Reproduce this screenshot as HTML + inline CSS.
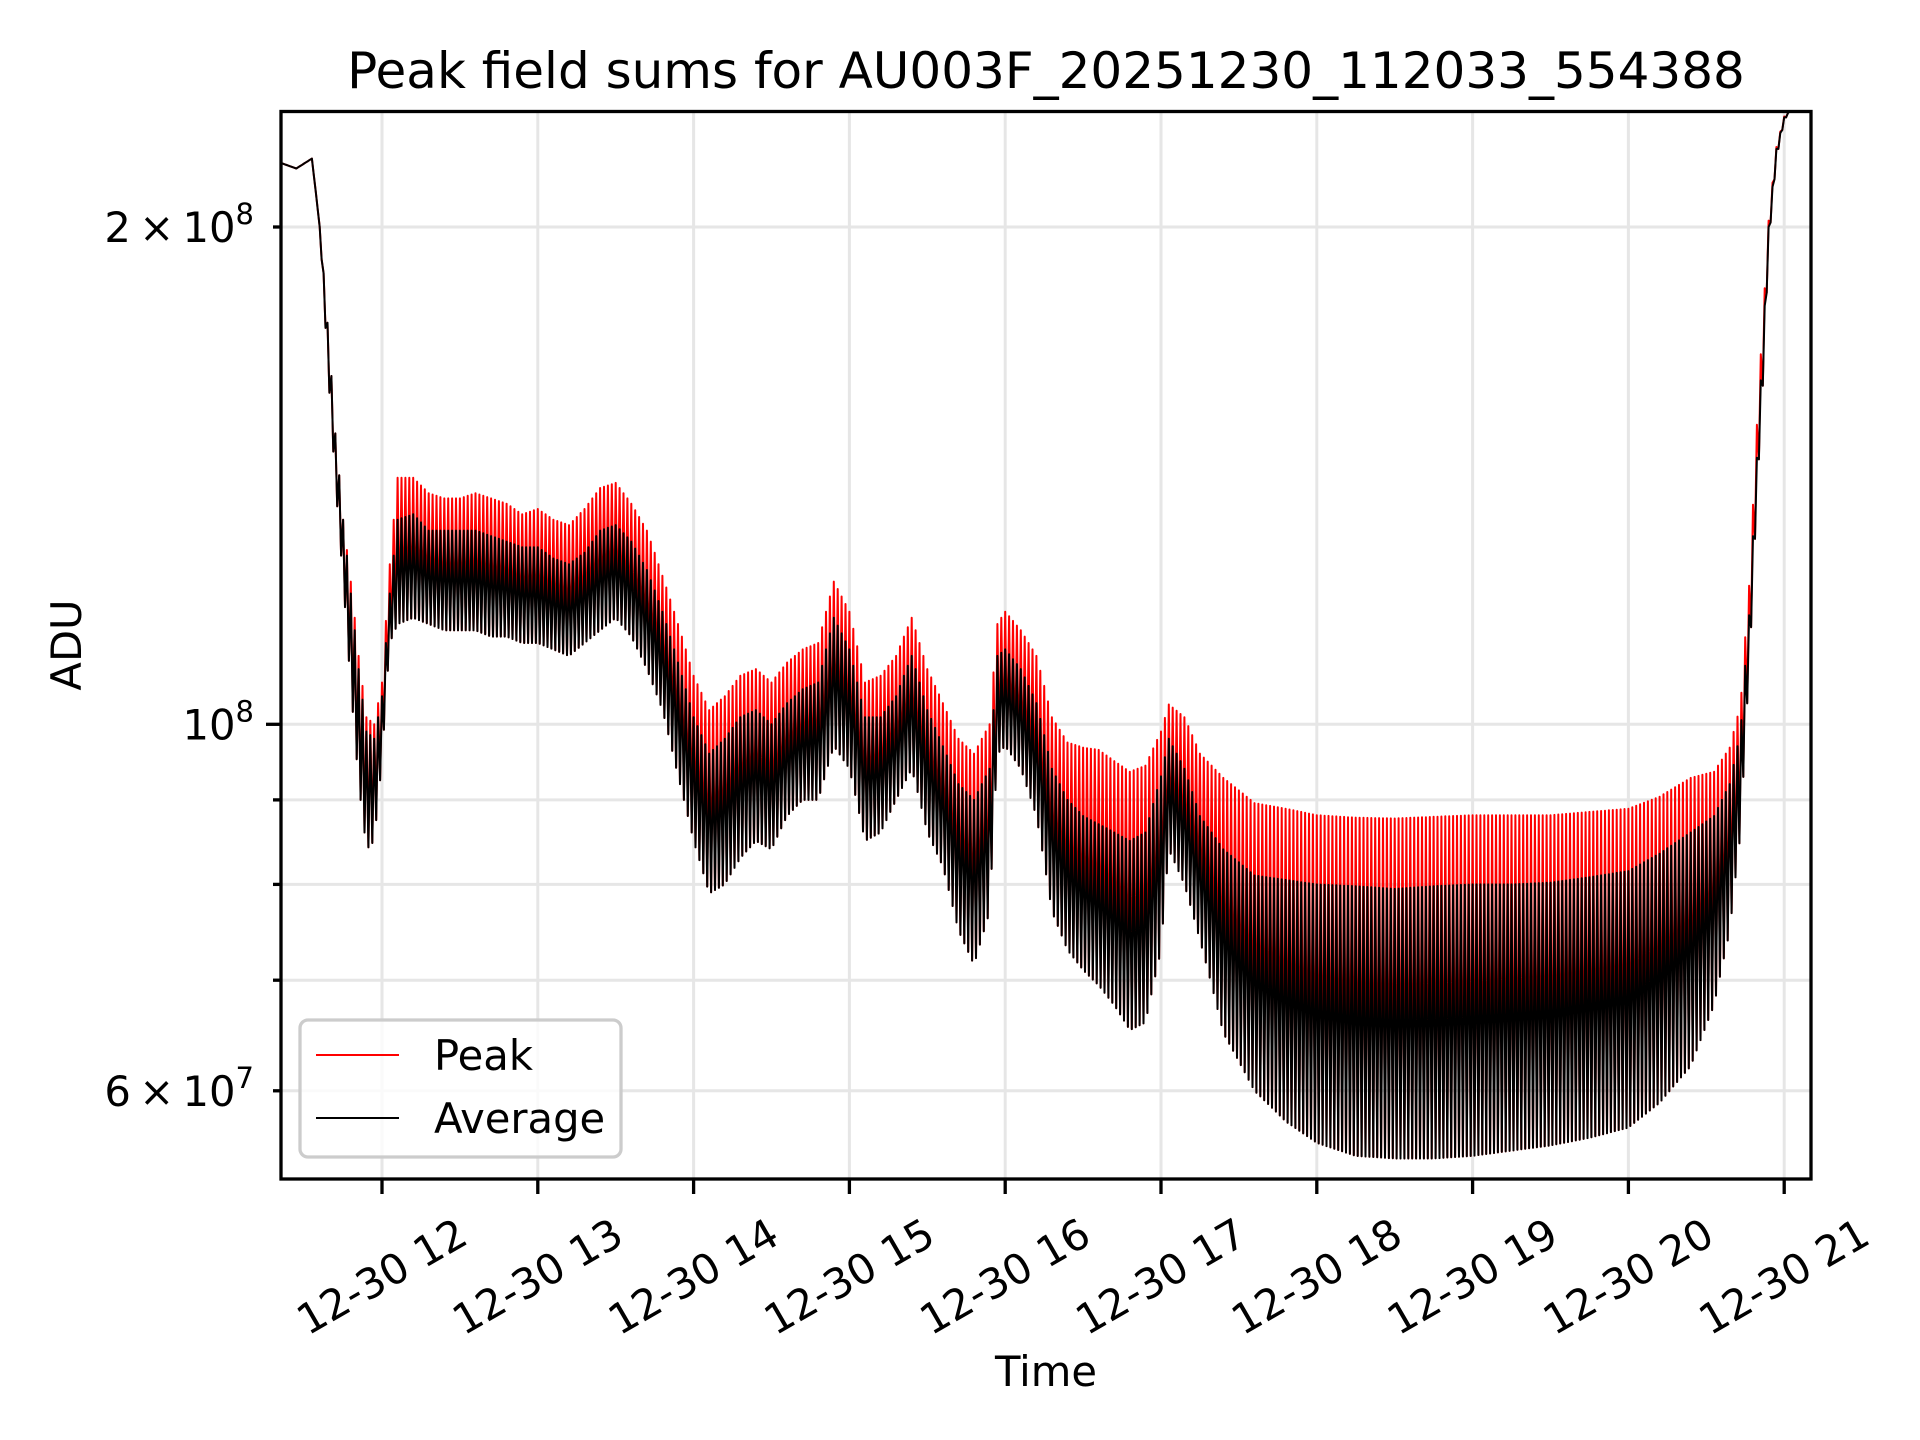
<!DOCTYPE html>
<html><head><meta charset="utf-8"><title>Peak field sums</title>
<style>
html,body{margin:0;padding:0;background:#fff;}
svg{display:block;font-family:"DejaVu Sans","Liberation Sans",sans-serif;}
</style></head>
<body>
<svg id="chart" xmlns="http://www.w3.org/2000/svg" width="1920" height="1440" viewBox="0 0 1920 1440">
<rect x="0" y="0" width="1920" height="1440" fill="#fff"/>
<defs><clipPath id="plotclip"><rect x="281" y="111.5" width="1530" height="1067.5"/></clipPath></defs>
<g id="grid"></g>
<g id="series" clip-path="url(#plotclip)"></g>
<rect x="281" y="111.5" width="1530" height="1067.5" fill="none" stroke="#000" stroke-width="3.3"/>
<g id="ticks"></g>
<text x="1046" y="88" font-size="50" text-anchor="middle">Peak field sums for AU003F_20251230_112033_554388</text>
<text x="0" y="0" font-size="41.7" text-anchor="middle" transform="translate(81,645) rotate(-90)">ADU</text>
<text x="1046" y="1386" font-size="41.7" text-anchor="middle">Time</text>
<g>
<rect x="300" y="1020" width="321" height="137" rx="8" fill="#fff" fill-opacity="0.8" stroke="#cccccc" stroke-width="3.3"/>
<line x1="316" y1="1055" x2="399" y2="1055" stroke="#ff0000" stroke-width="2"/>
<text x="434" y="1070" font-size="41.7">Peak</text>
<line x1="316" y1="1118" x2="399" y2="1118" stroke="#000" stroke-width="2"/>
<text x="434" y="1133" font-size="41.7">Average</text>
</g>
</svg>
<script>
// Data (values in units of 1e6 ADU; time in hours on 12-30)
const knotHours = [11.35,11.45,11.55,11.60,11.65,11.70,11.75,11.80,11.85,11.90,11.95,12.00,12.05,12.10,12.2,12.3,12.4,12.5,12.6,12.7,12.8,12.9,13.0,13.1,13.2,13.3,13.4,13.5,13.6,13.7,13.8,13.9,14.0,14.1,14.2,14.3,14.4,14.5,14.6,14.7,14.8,14.9,15.0,15.1,15.2,15.3,15.4,15.5,15.6,15.7,15.8,15.9,15.95,16.0,16.1,16.2,16.3,16.4,16.5,16.6,16.7,16.8,16.9,17.0,17.05,17.15,17.25,17.4,17.6,17.8,18.0,18.25,18.5,18.75,19.0,19.25,19.5,19.75,20.0,20.2,20.4,20.55,20.65,20.72,20.78,20.83,20.87,20.9,20.95,21.0,21.05,21.17];
const peakTop = [218.7,217,220,200,175,150,133,122,110,101,100,106,125,141,141,138,137,137,138,137,136,134,135,133,132,135,139,140,136,131,123,115,107,102,104,107,108,106,109,111,112,122,117,106,107,110,116,108,103,98,96,100,115,117,114,110,101,97.5,96.8,96.5,95,93.6,94.4,99,102.8,101,96,92.8,89.6,88.9,88.1,87.8,87.7,87.9,88.1,88.1,88.1,88.5,88.9,90.4,92.8,93.6,96.8,102.8,123,155,180,201.8,223.6,233.3,236,236];
const avgTop = [218.7,217,220,200,175,150,133,120,108,99,98,104,120,133,134,131,131,131,131,130,129,128,128,126,125,127,131,132,129,124,117,109,101,96,98,101,102,100,103,105,106,116,111,101,101,104,110,102,97,92,90,94,110,111,108,103,94,90,88,87,86,85,86,93,98,94,88,84,81,80.5,80,79.8,79.5,79.8,80,80,80.2,80.8,81.5,83.5,86,88,92,99,118,148,175,200,223,233,236,236];
const avgLow = [218.7,217,220,200,165,140,122,105,92,84,85,95,112,115,116,115,114,114,114,113,113,112,112,111,110,112,114,116,113,108,102,93,85,79,80,83,85,84,88,90,90,97,94,85,86,90,94,86,82,75,71.5,77,96,97,94,88,77,73,71,69.5,67.6,65.3,66,73,84,80,74,65,60,57.5,55.8,54.8,54.6,54.6,54.8,55.2,55.6,56.2,57.0,59.0,62.1,67.6,74.9,85.9,110,140,165,195,220,232,236,236];
const xTickHours = [12,13,14,15,16,17,18,19,20,21];
const xTickLabels = ["12-30 12","12-30 13","12-30 14","12-30 15","12-30 16","12-30 17","12-30 18","12-30 19","12-30 20","12-30 21"];
const yTickValues = [60,70,80,90,100,200];
const yTickLabels = [["6","7"],null,null,null,["1","8"],["2","8"]];
const cycleHours = 0.025;

const NS = "http://www.w3.org/2000/svg";
const AX_L = 281, AX_R = 1811, AX_T = 111.5, AX_B = 1179;
function xScale(h){ return 382 + (h - 12) * 155.8; }
function yScale(v){ return 724.3 - 1652 * Math.log10(v / 100); }
function interp(arr, t){
  if (t <= knotHours[0]) return arr[0];
  for (let i = 0; i < knotHours.length - 1; i++){
    if (t <= knotHours[i+1]){
      const f = (t - knotHours[i]) / (knotHours[i+1] - knotHours[i]);
      return arr[i] + f * (arr[i+1] - arr[i]);
    }
  }
  return arr[arr.length-1];
}
function mk(tag, attrs, parent){
  const el = document.createElementNS(NS, tag);
  for (const k in attrs) el.setAttribute(k, attrs[k]);
  parent.appendChild(el);
  return el;
}
const grid = document.getElementById('grid');
const ticks = document.getElementById('ticks');
const series = document.getElementById('series');

xTickHours.forEach((h, i) => {
  const x = xScale(h);
  const g = mk('line', {x1:x, y1:AX_T, x2:x, y2:AX_B, stroke:'#e6e6e6', 'stroke-width':3}, grid);
  
  
  const t = mk('line', {x1:x, y1:AX_B, x2:x, y2:AX_B+15, stroke:'#000', 'stroke-width':3.3}, ticks);
  
  
  const lbl = mk('text', {x:0, y:14, 'font-size':41.7, 'text-anchor':'middle', transform:'translate(' + x + ',1277) rotate(-30)'}, ticks);
  
  
  lbl.textContent = xTickLabels[i];
});
yTickValues.forEach((v, i) => {
  const y = yScale(v);
  const g = mk('line', {x1:AX_L, y1:y, x2:AX_R, y2:y, stroke:'#e6e6e6', 'stroke-width':3}, grid);
  
  
  const len = (v === 100) ? 15 : 8;
  const t = mk('line', {x1:AX_L-len, y1:y, x2:AX_L, y2:y, stroke:'#000', 'stroke-width':3.3}, ticks);
  
  
  const L = yTickLabels[i];
  if (L){
    const txt = mk('text', {x:254, y:y+15, 'font-size':41.7, 'text-anchor':'end'}, ticks);
    
    
    if (L[0] === "1"){
      txt.appendChild(document.createTextNode('10'));
    } else {
      txt.appendChild(document.createTextNode(L[0] + '\u2009\u00d7\u200910'));
    }
    const sup = mk('tspan', {'font-size':29, dy:-18}, txt);
    sup.textContent = L[1];
  }
});

function buildPath(topArr, lowArr){
  const t0 = knotHours[0], t1 = knotHours[knotHours.length-1];
  let d = '';
  for (let t = t0; t <= t1 + 1e-9; t += cycleHours){
    const a = xScale(t), b = yScale(interp(topArr, t));
    d += (d ? 'L' : 'M') + a.toFixed(1) + ',' + b.toFixed(1);
    const tm = t + cycleHours / 2;
    const c = xScale(tm), e = yScale(interp(lowArr, tm));
    d += 'L' + c.toFixed(1) + ',' + e.toFixed(1);
  }
  return d;
}
const peakPath = mk('path', {d:buildPath(peakTop, avgLow), fill:'none', stroke:'#ff0000', 'stroke-width':2, 'stroke-linejoin':'round'}, series);


const avgPath = mk('path', {d:buildPath(avgTop, avgLow), fill:'none', stroke:'#000', 'stroke-width':2, 'stroke-linejoin':'round'}, series);


</script>
</body></html>
